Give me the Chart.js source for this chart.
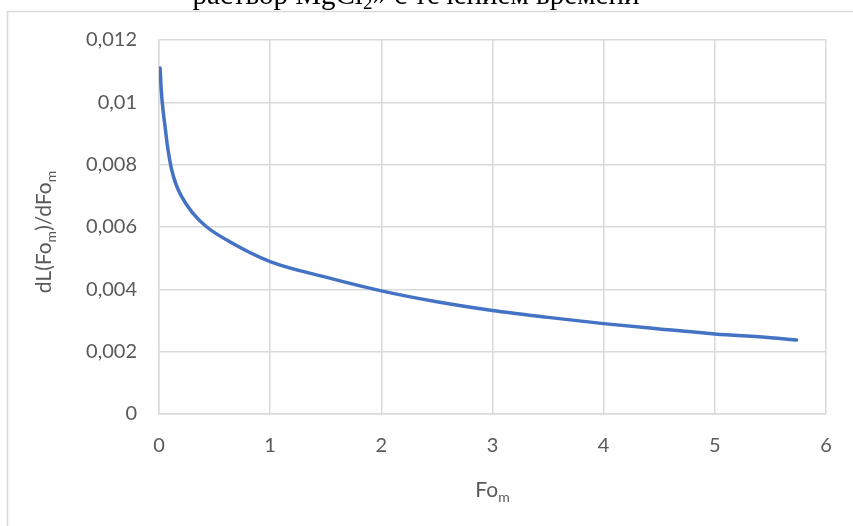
<!DOCTYPE html>
<html>
<head>
<meta charset="utf-8">
<script src="https://cdn.jsdelivr.net/npm/chart.js@4/dist/chart.umd.min.js"></script>
<style>
html,body{margin:0;padding:0;background:#fff;}
#wrap{position:relative;width:853px;height:526px;}
</style>
</head>
<body>
<div id="wrap"><canvas id="c" width="853" height="526"></canvas></div>
<script>
// Data
const foValues = [0.01, 0.02, 0.035, 0.055, 0.08, 0.11, 0.15, 0.2, 0.3, 0.43, 0.64, 1.0, 1.5, 2.0, 2.5, 3.0, 3.5, 4.0, 4.5, 5.0, 5.5, 5.735];
const dLValues = [0.0111, 0.0104, 0.0098, 0.0092, 0.0085, 0.0079, 0.0074, 0.0070, 0.00646, 0.0060, 0.00552, 0.00489, 0.00439, 0.00395, 0.0036, 0.00332, 0.0031, 0.0029, 0.00273, 0.00257, 0.00245, 0.002375];
const xTickValues = [0, 1, 2, 3, 4, 5, 6];
const xTickLabels = ['0', '1', '2', '3', '4', '5', '6'];
const yTickValues = [0, 0.002, 0.004, 0.006, 0.008, 0.010, 0.012];
const yTickLabels = ['0', '0,002', '0,004', '0,006', '0,008', '0,01', '0,012'];
const titleText = 'раствор MgCl';
const titleSub = '2';
const titleRest = '» с течением времени';
const xTitleParts = [['Fo', false], ['m', true]];
const yTitleParts = [['dL(Fo', false], ['m', true], [')/dFo', false], ['m', true]];

const FONT = 'Lato, "Open Sans", sans-serif';
const GRID = '#d9d9d9';
const TXT = '#595959';

function drawParts(ctx, parts, size, subSize, subShift) {
  let total = 0;
  const widths = parts.map(p => {
    ctx.font = (p[1] ? subSize : size) + 'px ' + FONT;
    const w = ctx.measureText(p[0]).width;
    total += w;
    return w;
  });
  let x = -total / 2;
  parts.forEach((p, i) => {
    ctx.font = (p[1] ? subSize : size) + 'px ' + FONT;
    ctx.fillText(p[0], x, p[1] ? subShift : 0);
    x += widths[i];
  });
}

const decor = {
  id: 'decor',
  afterDraw(chart) {
    const ctx = chart.ctx;
    const ca = chart.chartArea;
    ctx.save();
    // outer chart frame
    ctx.strokeStyle = GRID;
    ctx.lineWidth = 1.6;
    ctx.beginPath();
    ctx.moveTo(7.5, 526);
    ctx.lineTo(7.5, 11.5);
    ctx.lineTo(853, 11.5);
    ctx.stroke();
    // clipped document title above frame
    ctx.fillStyle = '#000';
    ctx.textBaseline = 'alphabetic';
    ctx.textAlign = 'left';
    const tSize = 29;
    ctx.font = tSize + 'px "Liberation Serif", serif';
    const w1 = ctx.measureText(titleText).width;
    ctx.font = Math.round(tSize * 0.65) + 'px "Liberation Serif", serif';
    const w2 = ctx.measureText(titleSub).width;
    ctx.font = tSize + 'px "Liberation Serif", serif';
    const w3 = ctx.measureText(titleRest).width;
    let tx = 416 - (w1 + w2 + w3) / 2;
    const ty = 4;
    ctx.fillText(titleText, tx, ty);
    ctx.font = Math.round(tSize * 0.65) + 'px "Liberation Serif", serif';
    ctx.fillText(titleSub, tx + w1, ty + 5);
    ctx.font = tSize + 'px "Liberation Serif", serif';
    ctx.fillText(titleRest, tx + w1 + w2, ty);
    // axis titles
    ctx.fillStyle = TXT;
    ctx.textBaseline = 'middle';
    ctx.save();
    ctx.translate((ca.left + ca.right) / 2, 490);
    drawParts(ctx, xTitleParts, 21, 14, 7);
    ctx.restore();
    ctx.save();
    ctx.translate(44, (ca.top + ca.bottom) / 2 + 5);
    ctx.rotate(-Math.PI / 2);
    drawParts(ctx, yTitleParts, 21, 14, 7);
    ctx.restore();
    ctx.restore();
  }
};

new Chart(document.getElementById('c'), {
  type: 'line',
  data: {
    datasets: [{
      data: foValues.map((x, i) => ({ x: x, y: dLValues[i] })),
      borderColor: '#4472C4',
      borderWidth: 3.5,
      pointRadius: 0,
      fill: false,
      cubicInterpolationMode: 'monotone',
      borderCapStyle: 'round',
      borderJoinStyle: 'round'
    }]
  },
  options: {
    responsive: false,
    animation: false,
    layout: { padding: { top: 40, right: 27, left: 0, bottom: 0 } },
    plugins: { legend: { display: false }, tooltip: { enabled: false }, title: { display: false } },
    scales: {
      x: {
        type: 'linear',
        min: 0, max: 6,
        afterBuildTicks: s => { s.ticks = xTickValues.map(v => ({ value: v })); },
        afterFit: s => { s.height = 112; },
        ticks: {
          callback: (v, i) => xTickLabels[i],
          color: TXT,
          font: { family: FONT, size: 20 },
          padding: 20,
          maxRotation: 0
        },
        grid: { color: GRID, lineWidth: 1.5, drawTicks: false },
        border: { color: GRID, width: 1.5 }
      },
      y: {
        type: 'linear',
        min: 0, max: 0.012,
        afterBuildTicks: s => { s.ticks = yTickValues.map(v => ({ value: v })); },
        afterFit: s => { s.width = 159; },
        ticks: {
          callback: (v, i) => yTickLabels[i],
          color: TXT,
          font: { family: FONT, size: 20 },
          padding: 22
        },
        grid: { color: GRID, lineWidth: 1.5, drawTicks: false },
        border: { color: GRID, width: 1.5 }
      }
    }
  },
  plugins: [decor]
});
</script>
</body>
</html>
